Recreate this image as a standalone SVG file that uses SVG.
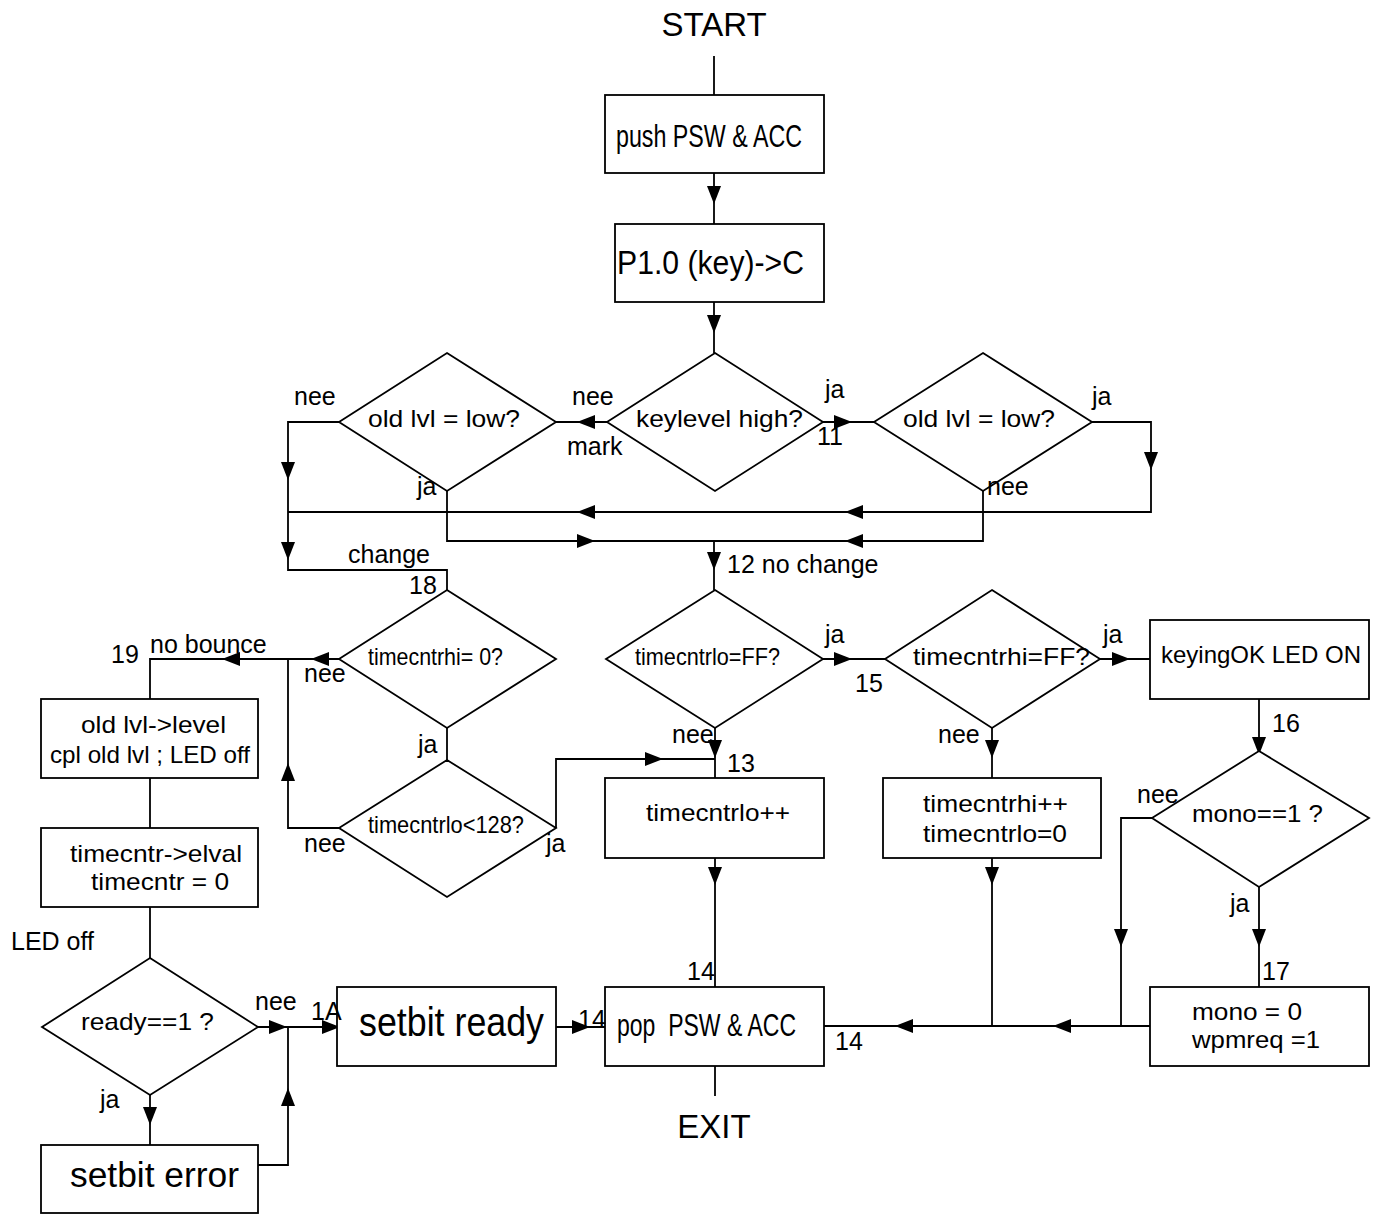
<svg xmlns="http://www.w3.org/2000/svg" xmlns:xlink="http://www.w3.org/1999/xlink" width="1376" height="1214" viewBox="0 0 1376 1214">
<style>
.bg{fill:#ffffff}
.n{fill:#ffffff;stroke:#000;stroke-width:1.8}
.c{fill:none;stroke:#000;stroke-width:1.8}
.t{font-family:"Liberation Sans",Arial,sans-serif;font-size:24px;fill:#000}
.l{font-family:"Liberation Sans",Arial,sans-serif;font-size:25px;fill:#000}
.big{font-size:33px}
</style>
<defs>
<path id="aR" d="M0 0 L-18 -7 L-18 7 Z" fill="#000"/>
<path id="aL" d="M0 0 L18 -7 L18 7 Z" fill="#000"/>
<path id="aD" d="M0 0 L-7 -18 L7 -18 Z" fill="#000"/>
<path id="aU" d="M0 0 L-7 18 L7 18 Z" fill="#000"/>
</defs>
<rect class="bg" x="0" y="0" width="1376" height="1214"/>

<g id="connectors">
<path class="c" d="M714 56 V95"/>
<path class="c" d="M714 173 V224"/>
<path class="c" d="M714 302 V353"/>
<path class="c" d="M607 422 H556"/>
<path class="c" d="M823 422 H874"/>
<path class="c" d="M339 422 H288 V570 H447 V590"/>
<path class="c" d="M1092 422 H1151 V512 H288"/>
<path class="c" d="M447 491 V541 H983 V491"/>
<path class="c" d="M714 541 V590"/>
<path class="c" d="M339 659 H150 V699"/>
<path class="c" d="M150 778 V828"/>
<path class="c" d="M150 907 V958"/>
<path class="c" d="M447 728 V760"/>
<path class="c" d="M339 828 H288 V659"/>
<path class="c" d="M556 828 V759 H715"/>
<path class="c" d="M823 659 H885"/>
<path class="c" d="M715 728 V778"/>
<path class="c" d="M715 858 V987"/>
<path class="c" d="M1100 659 H1150"/>
<path class="c" d="M992 728 V778"/>
<path class="c" d="M992 858 V1026"/>
<path class="c" d="M1259 699 V751"/>
<path class="c" d="M1152 818 H1121 V1026"/>
<path class="c" d="M1259 887 V987"/>
<path class="c" d="M1150 1026 H824"/>
<path class="c" d="M258 1027 H337"/>
<path class="c" d="M258 1165 H288 V1027"/>
<path class="c" d="M150 1095 V1145"/>
<path class="c" d="M556 1027 H605"/>
<path class="c" d="M715 1066 V1096"/>
<use xlink:href="#aD" x="714" y="204"/>
<use xlink:href="#aD" x="714" y="333"/>
<use xlink:href="#aL" x="577" y="422"/>
<use xlink:href="#aR" x="852" y="422"/>
<use xlink:href="#aD" x="288" y="480"/>
<use xlink:href="#aD" x="288" y="560"/>
<use xlink:href="#aD" x="1151" y="470"/>
<use xlink:href="#aL" x="845" y="512"/>
<use xlink:href="#aL" x="577" y="512"/>
<use xlink:href="#aR" x="595" y="541"/>
<use xlink:href="#aL" x="845" y="541"/>
<use xlink:href="#aD" x="714" y="570"/>
<use xlink:href="#aL" x="311" y="659"/>
<use xlink:href="#aL" x="222" y="659"/>
<use xlink:href="#aU" x="288" y="763"/>
<use xlink:href="#aR" x="663" y="759"/>
<use xlink:href="#aR" x="852" y="659"/>
<use xlink:href="#aD" x="715" y="758"/>
<use xlink:href="#aD" x="715" y="885"/>
<use xlink:href="#aR" x="1130" y="659"/>
<use xlink:href="#aD" x="992" y="758"/>
<use xlink:href="#aD" x="992" y="885"/>
<use xlink:href="#aD" x="1259" y="755"/>
<use xlink:href="#aD" x="1121" y="947"/>
<use xlink:href="#aD" x="1259" y="947"/>
<use xlink:href="#aL" x="1053" y="1026"/>
<use xlink:href="#aL" x="895" y="1026"/>
<use xlink:href="#aR" x="287" y="1027"/>
<use xlink:href="#aR" x="340" y="1027"/>
<use xlink:href="#aU" x="288" y="1088"/>
<use xlink:href="#aD" x="150" y="1125"/>
<use xlink:href="#aR" x="590" y="1027"/>
</g>

<g id="start"><text class="l big" x="714" y="36" text-anchor="middle">START</text></g>
<g id="exit"><text class="l big" x="714" y="1138" text-anchor="middle">EXIT</text></g>

<g id="push">
<rect class="n" x="605" y="95" width="219" height="78"/>
<text class="t" style="font-size:32px" x="616" y="147" textLength="186" lengthAdjust="spacingAndGlyphs">push PSW &amp; ACC</text>
</g>
<g id="p10">
<rect class="n" x="615" y="224" width="209" height="78"/>
<text class="t" style="font-size:33px" x="617" y="274" textLength="187" lengthAdjust="spacingAndGlyphs">P1.0 (key)-&gt;C</text>
</g>
<g id="keylevel">
<polygon class="n" points="715,353 823,422 715,491 607,422"/>
<text class="t" x="636" y="427" textLength="167" lengthAdjust="spacingAndGlyphs">keylevel high?</text>
</g>
<g id="oldlvl-left">
<polygon class="n" points="447,353 556,422 447,491 339,422"/>
<text class="t" x="368" y="427" textLength="152" lengthAdjust="spacingAndGlyphs">old lvl = low?</text>
</g>
<g id="oldlvl-right">
<polygon class="n" points="983,353 1092,422 983,491 874,422"/>
<text class="t" x="903" y="427" textLength="152" lengthAdjust="spacingAndGlyphs">old lvl = low?</text>
</g>
<g id="tchi0">
<polygon class="n" points="447,590 556,659 447,728 339,659"/>
<text class="t" x="368" y="665" textLength="135" lengthAdjust="spacingAndGlyphs">timecntrhi= 0?</text>
</g>
<g id="tclo128">
<polygon class="n" points="447,760 556,828 447,897 339,828"/>
<text class="t" x="368" y="833" textLength="156" lengthAdjust="spacingAndGlyphs">timecntrlo&lt;128?</text>
</g>
<g id="tcloFF">
<polygon class="n" points="715,590 823,659 715,728 606,659"/>
<text class="t" x="635" y="665" textLength="145" lengthAdjust="spacingAndGlyphs">timecntrlo=FF?</text>
</g>
<g id="tchiFF">
<polygon class="n" points="992,590 1100,659 992,728 885,659"/>
<text class="t" x="913" y="665" textLength="177" lengthAdjust="spacingAndGlyphs">timecntrhi=FF?</text>
</g>
<g id="keyingok">
<rect class="n" x="1150" y="620" width="219" height="79"/>
<text class="t" x="1161" y="663" textLength="200" lengthAdjust="spacingAndGlyphs">keyingOK LED ON</text>
</g>
<g id="oldlvl-level">
<rect class="n" x="41" y="699" width="217" height="79"/>
<text class="t" x="81" y="733" textLength="145" lengthAdjust="spacingAndGlyphs">old lvl-&gt;level</text>
<text class="t" x="50" y="763" textLength="200" lengthAdjust="spacingAndGlyphs">cpl old lvl ; LED off</text>
</g>
<g id="timecntr-elval">
<rect class="n" x="41" y="828" width="217" height="79"/>
<text class="t" x="70" y="862" textLength="172" lengthAdjust="spacingAndGlyphs">timecntr-&gt;elval</text>
<text class="t" x="91" y="890" textLength="138" lengthAdjust="spacingAndGlyphs">timecntr = 0</text>
</g>
<g id="timecntrlo-inc">
<rect class="n" x="605" y="778" width="219" height="80"/>
<text class="t" x="646" y="821" textLength="144" lengthAdjust="spacingAndGlyphs">timecntrlo++</text>
</g>
<g id="timecntrhi-inc">
<rect class="n" x="883" y="778" width="218" height="80"/>
<text class="t" x="923" y="812" textLength="145" lengthAdjust="spacingAndGlyphs">timecntrhi++</text>
<text class="t" x="923" y="842" textLength="144" lengthAdjust="spacingAndGlyphs">timecntrlo=0</text>
</g>
<g id="mono">
<polygon class="n" points="1259,751 1369,818 1259,887 1152,818"/>
<text class="t" x="1192" y="822" textLength="131" lengthAdjust="spacingAndGlyphs">mono==1 ?</text>
</g>
<g id="ready">
<polygon class="n" points="150,958 258,1027 150,1095 42,1027"/>
<text class="t" x="81" y="1030" textLength="133" lengthAdjust="spacingAndGlyphs">ready==1 ?</text>
</g>
<g id="setbit-ready">
<rect class="n" x="337" y="987" width="219" height="79"/>
<text class="t" style="font-size:40px" x="359" y="1036" textLength="185" lengthAdjust="spacingAndGlyphs">setbit ready</text>
</g>
<g id="pop">
<rect class="n" x="605" y="987" width="219" height="79"/>
<text class="t" style="font-size:32px" x="617" y="1036" textLength="179" lengthAdjust="spacingAndGlyphs" xml:space="preserve">pop  PSW &amp; ACC</text>
</g>
<g id="mono0">
<rect class="n" x="1150" y="987" width="219" height="79"/>
<text class="t" x="1192" y="1020" textLength="110" lengthAdjust="spacingAndGlyphs">mono = 0</text>
<text class="t" x="1192" y="1048" textLength="128" lengthAdjust="spacingAndGlyphs">wpmreq =1</text>
</g>
<g id="setbit-error">
<rect class="n" x="41" y="1145" width="217" height="68"/>
<text class="t" style="font-size:35px" x="70" y="1187" textLength="169" lengthAdjust="spacingAndGlyphs">setbit error</text>
</g>

<g id="labels">
<text class="l" x="294" y="405">nee</text>
<text class="l" x="572" y="405">nee</text>
<text class="l" x="567" y="455">mark</text>
<text class="l" x="417" y="495">ja</text>
<text class="l" x="825" y="398">ja</text>
<text class="l" x="817" y="445">11</text>
<text class="l" x="1092" y="405">ja</text>
<text class="l" x="987" y="495">nee</text>
<text class="l" x="348" y="563">change</text>
<text class="l" x="409" y="594">18</text>
<text class="l" x="727" y="573">12 no change</text>
<text class="l" x="111" y="663">19</text>
<text class="l" x="150" y="653">no bounce</text>
<text class="l" x="304" y="682">nee</text>
<text class="l" x="418" y="753">ja</text>
<text class="l" x="304" y="852">nee</text>
<text class="l" x="546" y="852">ja</text>
<text class="l" x="11" y="950">LED off</text>
<text class="l" x="255" y="1010">nee</text>
<text class="l" x="311" y="1020">1A</text>
<text class="l" x="100" y="1108">ja</text>
<text class="l" x="825" y="643">ja</text>
<text class="l" x="855" y="692">15</text>
<text class="l" x="672" y="743">nee</text>
<text class="l" x="727" y="772">13</text>
<text class="l" x="687" y="980">14</text>
<text class="l" x="578" y="1028">14</text>
<text class="l" x="835" y="1050">14</text>
<text class="l" x="1103" y="643">ja</text>
<text class="l" x="938" y="743">nee</text>
<text class="l" x="1272" y="732">16</text>
<text class="l" x="1137" y="803">nee</text>
<text class="l" x="1230" y="912">ja</text>
<text class="l" x="1262" y="980">17</text>
</g>
</svg>
